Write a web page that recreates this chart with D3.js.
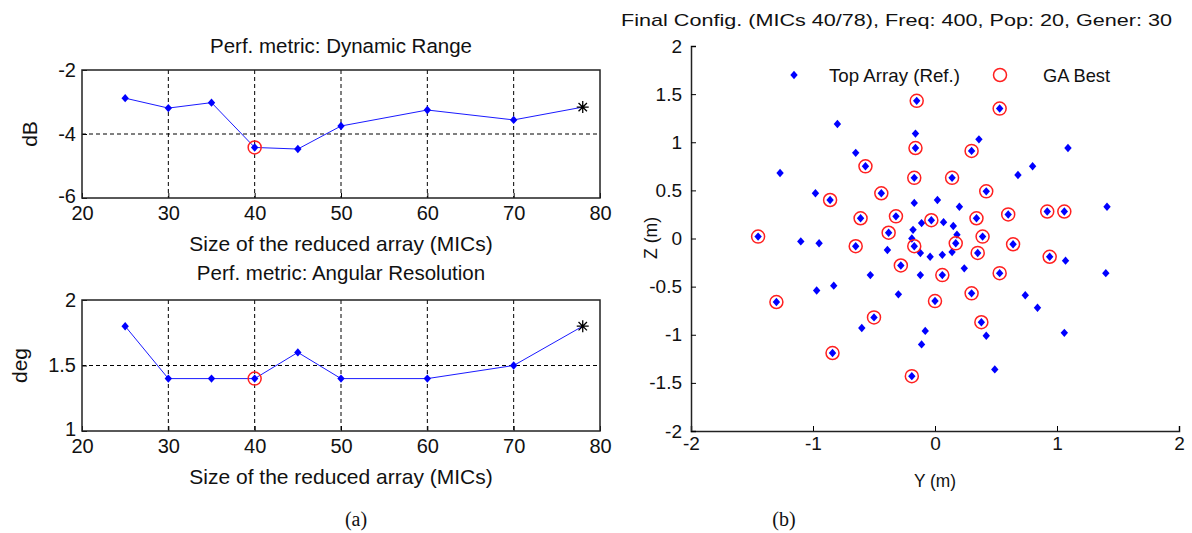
<!DOCTYPE html>
<html>
<head>
<meta charset="utf-8">
<script src="https://cdn.jsdelivr.net/npm/d3@7/dist/d3.min.js"></script>
<style>
  body { margin: 0; background: #fff; }
  text { font-family: "Liberation Sans", Arial, sans-serif; fill: #111; }
</style>
</head>
<body>
<svg id="svgContainer"></svg>
<script>
// ---- data ----
const arraySizes = [25, 30, 35, 40, 45, 50, 60, 70, 78];
const dynamicRange = [-2.88, -3.19, -3.02, -4.42, -4.47, -3.75, -3.25, -3.56, -3.16];
const angularRes = [1.8, 1.4, 1.4, 1.4, 1.6, 1.4, 1.4, 1.5, 1.8];
const bestSize = 40;
const sizeTicks = [20, 30, 40, 50, 60, 70, 80];
const dynTicks = [-6, -4, -2];
const angTicks = [1, 1.5, 2];

// reference array (78 mics), Y and Z in metres
const refY = [-0.15, -0.80, -0.16, -0.16, -0.65, -0.57, -1.27, -0.17, -0.98, -0.86,
  -0.44, 0.02, -0.17, -0.61, -0.32, -0.03, -0.11, -0.18, -0.38, -1.45,
  -1.10, -0.95, -0.65, -0.17, -0.39, -0.12, -0.04, -0.28, -0.53, -0.12,
  -0.83, -0.97, -0.30, -1.30, 0.00, -0.50, -0.60, -0.08, -0.11, -0.84,
  -0.19, 0.53, 0.36, 0.30, 1.09, 0.80, 0.68, 0.14, 0.42, 0.20,
  0.07, 0.15, 0.34, 0.60, 0.92, 1.06, 1.41, 0.18, 0.17, 0.39,
  0.64, 0.35, 0.14, 0.06, 0.94, 1.07, 0.06, 0.24, 0.53, 1.40,
  0.30, 0.74, 0.84, 0.38, 0.42, 1.06, 0.49, -0.19];
const refZ = [1.43, 1.19, 1.09, 0.94, 0.89, 0.75, 0.68, 0.63, 0.47, 0.40,
  0.47, 0.40, 0.37, 0.21, 0.23, 0.19, 0.16, 0.09, 0.06, 0.02,
  -0.03, -0.05, -0.08, -0.08, -0.12, -0.15, -0.19, -0.28, -0.38, -0.38,
  -0.49, -0.54, -0.58, -0.66, -0.65, -0.82, -0.93, -0.96, -1.10, -1.19,
  -1.43, 1.35, 1.03, 0.91, 0.94, 0.75, 0.66, 0.63, 0.49, 0.33,
  0.17, 0.13, 0.21, 0.25, 0.28, 0.28, 0.33, 0.04, -0.05, 0.02,
  -0.06, -0.15, -0.14, -0.17, -0.19, -0.23, -0.38, -0.31, -0.36, -0.36,
  -0.57, -0.59, -0.72, -0.87, -1.01, -0.98, -1.36, 0.00];

// GA best selection
const gaY = [-0.15, -0.16, -0.57, -0.17, -0.86, -0.44, -0.61, -0.32, -0.03, -0.38,
  -1.45, -0.65, -0.17, -0.28, -1.30, 0.00, -0.50, -0.84, -0.19, 0.53,
  0.30, 0.14, 0.42, 0.34, 0.60, 0.92, 1.06, 0.17, 0.39, 0.64,
  0.35, 0.94, 0.06, 0.53, 0.30, 0.38];
const gaZ = [1.43, 0.94, 0.75, 0.63, 0.40, 0.47, 0.21, 0.23, 0.19, 0.06,
  0.02, -0.08, -0.08, -0.28, -0.66, -0.65, -0.82, -1.19, -1.43, 1.35,
  0.91, 0.63, 0.49, 0.21, 0.25, 0.28, 0.28, -0.05, 0.02, -0.06,
  -0.15, -0.19, -0.38, -0.36, -0.57, -0.87];
const posTicks = [-2, -1, 0, 1, 2];
const zTicks = [-2, -1.5, -1, -0.5, 0, 0.5, 1, 1.5, 2];

// ---- svg ----
const svgWidth = 1192;
const svgHeight = 533;
const svg = d3.select("#svgContainer")
  .attr("width", svgWidth)
  .attr("height", svgHeight);

const diamond = "M0,-4.2L3.7,0L0,4.2L-3.7,0Z";
const star = "M-6,0H6M0,-6V6M-4.2,-4.2L4.2,4.2M-4.2,4.2L4.2,-4.2";
const plainNum = d => String(d); // keep hyphen minus like the original

// draws one of the two small performance panels on the left
function drawPerfPanel(values, yDomain, yTicks, top, bottom, title, titleGap, yLabel, yLabelX) {
  const left = 82, right = 600;
  const x = d3.scaleLinear().domain([20, 80]).range([left, right]);
  const y = d3.scaleLinear().domain(yDomain).range([bottom, top]);
  const g = svg.append("g");

  // dashed grid
  g.selectAll(".vgrid")
    .data(sizeTicks.slice(1, -1))
    .enter()
    .append("line")
    .attr("x1", d => x(d)).attr("x2", d => x(d))
    .attr("y1", top).attr("y2", bottom)
    .attr("stroke", "#000").attr("stroke-width", 1)
    .attr("stroke-dasharray", "4,3");
  g.selectAll(".hgrid")
    .data(yTicks.slice(1, -1))
    .enter()
    .append("line")
    .attr("x1", left).attr("x2", right)
    .attr("y1", d => y(d)).attr("y2", d => y(d))
    .attr("stroke", "#000").attr("stroke-width", 1)
    .attr("stroke-dasharray", "4,3");

  // axes with ticks pointing inward
  const xAxis = g.append("g")
    .attr("transform", `translate(0,${bottom})`)
    .call(d3.axisBottom(x).tickValues(sizeTicks).tickSize(-5).tickPadding(8).tickFormat(plainNum));
  const yAxis = g.append("g")
    .attr("transform", `translate(${left},0)`)
    .call(d3.axisLeft(y).tickValues(yTicks).tickSize(-5).tickPadding(6).tickFormat(plainNum));
  [xAxis, yAxis].forEach(a => {
    a.select(".domain").remove();
    a.selectAll("text").attr("font-size", 20).attr("fill", "#111")
      .attr("font-family", "Liberation Sans, Arial, sans-serif");
    a.selectAll("line").attr("stroke", "#000");
  });
  // the lowest y label sits a little higher so it clears the first x label
  yAxis.selectAll(".tick text").filter(d => d === yTicks[0]).attr("dy", "0.2em");

  // box
  g.append("rect")
    .attr("x", left).attr("y", top)
    .attr("width", right - left).attr("height", bottom - top)
    .attr("fill", "none").attr("stroke", "#222").attr("stroke-width", 1.5);

  // line + markers
  const pts = arraySizes.map((s, i) => [s, values[i]]);
  g.append("path")
    .datum(pts)
    .attr("fill", "none")
    .attr("stroke", "#1a1aff")
    .attr("stroke-width", 1)
    .attr("d", d3.line().x(d => x(d[0])).y(d => y(d[1])));

  g.selectAll(".mk")
    .data(pts.slice(0, -1))
    .enter()
    .append("path")
    .attr("transform", d => `translate(${x(d[0])},${y(d[1])})`)
    .attr("d", diamond)
    .attr("fill", "#0000ff");

  // full array marked with a star
  const last = pts[pts.length - 1];
  g.append("path")
    .attr("transform", `translate(${x(last[0])},${y(last[1])})`)
    .attr("d", star)
    .attr("stroke", "#000").attr("stroke-width", 1.3);

  // chosen size circled in red
  const best = pts.find(d => d[0] === bestSize);
  g.append("circle")
    .attr("cx", x(best[0])).attr("cy", y(best[1]))
    .attr("r", 6.5)
    .attr("fill", "none").attr("stroke", "#ff2020").attr("stroke-width", 1.5);

  // labels
  g.append("text")
    .text(title)
    .attr("x", (left + right) / 2).attr("y", top - titleGap)
    .attr("text-anchor", "middle")
    .attr("font-size", 20.5);
  g.append("text")
    .text("Size of the reduced array (MICs)")
    .attr("x", (left + right) / 2).attr("y", bottom + 53)
    .attr("text-anchor", "middle")
    .attr("font-size", 21);
  g.append("text")
    .text(yLabel)
    .attr("transform", `translate(${yLabelX},${(top + bottom) / 2}) rotate(-90)`)
    .attr("text-anchor", "middle")
    .attr("font-size", 21);
}

drawPerfPanel(dynamicRange, [-6, -2], dynTicks, 70, 198, "Perf. metric: Dynamic Range", 17, "dB", 37);
drawPerfPanel(angularRes, [1, 2], angTicks, 300, 431, "Perf. metric: Angular Resolution", 20, "deg", 27);

// ---- right panel: array geometry ----
const sx = d3.scaleLinear().domain([-2, 2]).range([691, 1179]);
const sy = d3.scaleLinear().domain([-2, 2]).range([431, 46]);

const xAxisR = svg.append("g")
  .attr("transform", "translate(0,431)")
  .call(d3.axisBottom(sx).tickValues(posTicks).tickSize(-5).tickPadding(6).tickFormat(plainNum));
const yAxisR = svg.append("g")
  .attr("transform", "translate(691,0)")
  .call(d3.axisLeft(sy).tickValues(zTicks).tickSize(-5).tickPadding(9).tickFormat(plainNum));
[xAxisR, yAxisR].forEach(a => {
  a.select(".domain").attr("stroke", "#222").attr("stroke-width", 1.5);
  a.selectAll("text").attr("font-size", 19).attr("fill", "#111")
    .attr("font-family", "Liberation Sans, Arial, sans-serif");
  a.selectAll("line").attr("stroke", "#000");
});

// reference mics
svg.selectAll(".ref")
  .data(refY.map((v, i) => [v, refZ[i]]))
  .enter()
  .append("path")
  .attr("transform", d => `translate(${sx(d[0])},${sy(d[1])})`)
  .attr("d", diamond)
  .attr("fill", "#0000ff");

// GA best mics
svg.selectAll(".ga")
  .data(gaY.map((v, i) => [v, gaZ[i]]))
  .enter()
  .append("circle")
  .attr("cx", d => sx(d[0])).attr("cy", d => sy(d[1]))
  .attr("r", 6.5)
  .attr("fill", "none").attr("stroke", "#ff2020").attr("stroke-width", 1.5);

// legend
svg.append("path").attr("transform", "translate(794,75)").attr("d", diamond).attr("fill", "#0000ff");
svg.append("text").text("Top Array (Ref.)")
  .attr("x", 829).attr("y", 82).attr("font-size", 19)
  .attr("textLength", 131).attr("lengthAdjust", "spacingAndGlyphs");
svg.append("circle").attr("cx", 1000).attr("cy", 75).attr("r", 6.5)
  .attr("fill", "none").attr("stroke", "#ff2020").attr("stroke-width", 1.5);
svg.append("text").text("GA Best")
  .attr("x", 1043).attr("y", 82).attr("font-size", 19)
  .attr("textLength", 67).attr("lengthAdjust", "spacingAndGlyphs");

// title and axis labels
svg.append("text")
  .text("Final Config. (MICs 40/78), Freq: 400, Pop: 20, Gener: 30")
  .attr("x", 621).attr("y", 26)
  .attr("font-size", 17)
  .attr("textLength", 551).attr("lengthAdjust", "spacingAndGlyphs");
svg.append("text")
  .text("Y (m)")
  .attr("x", 935).attr("y", 487)
  .attr("text-anchor", "middle")
  .attr("font-size", 19)
  .attr("textLength", 42).attr("lengthAdjust", "spacingAndGlyphs");
svg.append("text")
  .text("Z (m)")
  .attr("transform", "translate(657,238) rotate(-90)")
  .attr("text-anchor", "middle")
  .attr("font-size", 19)
  .attr("textLength", 42).attr("lengthAdjust", "spacingAndGlyphs");

// sub-figure captions
svg.selectAll(".caption")
  .data([["(a)", 356], ["(b)", 784]])
  .enter()
  .append("text")
  .text(d => d[0])
  .attr("x", d => d[1]).attr("y", 526)
  .attr("text-anchor", "middle")
  .attr("font-size", 20)
  .style("font-family", "Liberation Serif, Times New Roman, serif");
</script>
</body>
</html>
